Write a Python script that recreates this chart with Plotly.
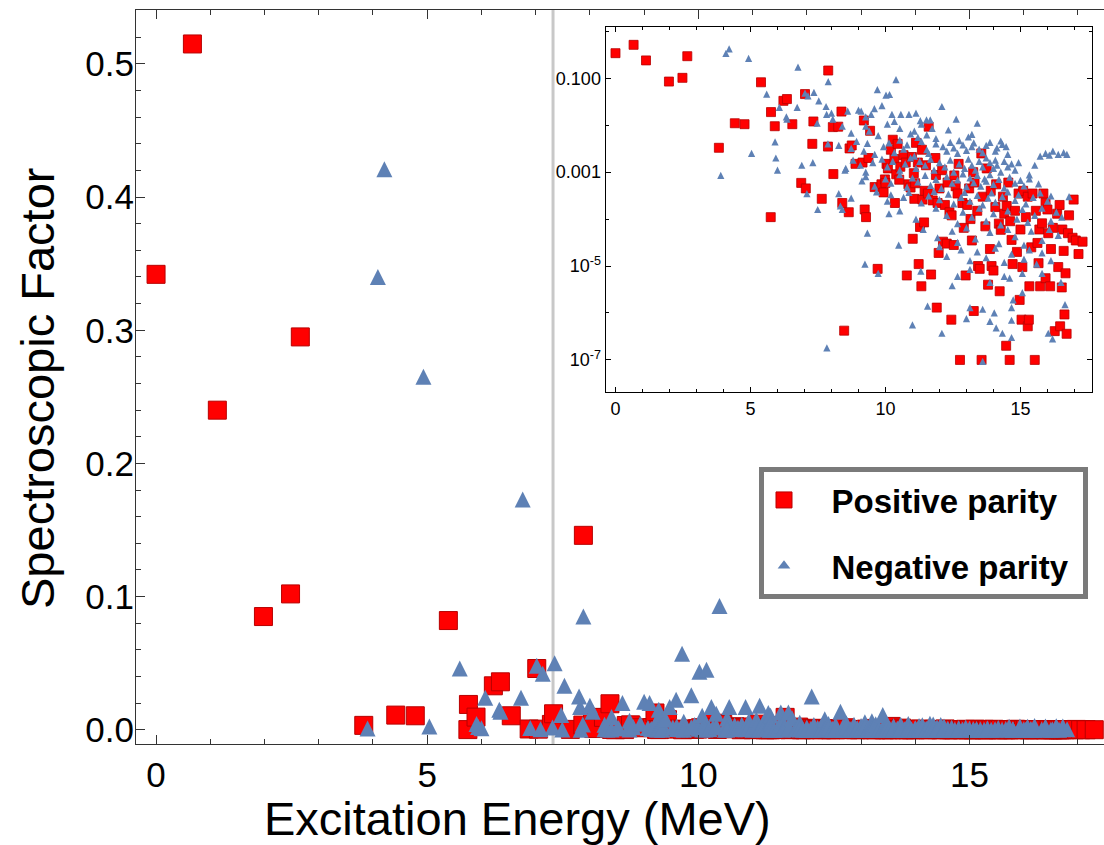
import plotly.graph_objects as go

# ---------------- data ----------------
# Positive parity: excitation energy (MeV) and spectroscopic factor
pos_energy = [
    0.00, 0.67, 1.13, 1.98, 2.48, 2.66, 3.83, 4.42, 4.78, 5.39, 5.75, 5.76, 5.90, 6.22, 6.35, 6.55,
    6.88, 7.02, 7.05, 7.29, 7.33, 7.64, 7.87, 7.88, 8.05, 8.07, 8.25, 8.37, 8.40, 8.47, 8.64, 8.67,
    8.75, 8.89, 9.15, 9.20, 9.23, 9.28, 9.37, 9.43, 9.60, 9.71, 9.85, 9.93, 9.98, 10.00, 10.04, 10.09,
    10.20, 10.27, 10.33, 10.35, 10.40, 10.45, 10.51, 10.55, 10.67, 10.75, 10.79, 10.85, 10.93, 10.98,
    11.01, 11.05, 11.07, 11.10, 11.13, 11.20, 11.23, 11.28, 11.33, 11.35, 11.37, 11.43, 11.45, 11.50,
    11.57, 11.60, 11.69, 11.75, 11.85, 11.87, 11.90, 11.93, 11.97, 12.00, 12.10, 12.13, 12.20, 12.27,
    12.30, 12.37, 12.44, 12.45, 12.53, 12.55, 12.60, 12.67, 12.71, 12.76, 12.85, 12.90, 12.97, 13.03,
    13.10, 13.15, 13.20, 13.25, 13.27, 13.30, 13.40, 13.43, 13.49, 13.55, 13.56, 13.60, 13.70, 13.75,
    13.80, 13.87, 13.90, 13.93, 14.00, 14.07, 14.10, 14.20, 14.23, 14.27, 14.35, 14.40, 14.47, 14.49,
    14.55, 14.60, 14.62, 14.67, 14.71, 14.80, 14.87, 14.93, 14.97, 15.00, 15.04, 15.07, 15.10, 15.20,
    15.27, 15.27, 15.31, 15.33, 15.40, 15.45, 15.53, 15.57, 15.63, 15.67, 15.70, 15.73, 15.80, 15.85,
    15.93, 15.93, 16.00, 16.03, 16.10, 16.13, 16.20, 16.27, 16.36, 16.40, 16.45, 16.47, 16.53, 16.55,
    16.60, 16.63, 16.67, 16.71, 16.76, 16.80, 16.93, 16.97, 17.05, 17.15, 17.30,
]
pos_factor = [
    0.342, 0.515, 0.240, 0.085, 0.102, 0.295, 0.0033, 0.011, 0.0105, 0.082, 1.1e-4, 0.019, 0.0095, 0.033, 0.036, 0.0105,
    5.9e-4, 0.046, 4.5e-4, 0.0040, 0.012, 2.7e-4, 0.0035, 0.146, 0.0091, 9.1e-4, 0.0093, 0.0195, 2.2e-4, 4.2e-7, 1.4e-4, 0.0032,
    0.0037, 0.0015, 0.0016, 0.0126, 1.6e-4, 1.1e-4, 0.0020, 0.0076, 4.8e-4, 8.7e-6, 5.5e-4, 3.7e-4, 7.0e-4, 5.9e-4, 0.0015, 0.0012,
    0.0030, 0.0049, 0.0019, 2.2e-4, 9.0e-4, 0.0040, 6.9e-4, 0.0013, 0.0023, 0.0016, 6.3e-6, 5.5e-4, 4.7e-4, 0.0021,
    3.8e-5, 9.5e-4, 2.7e-4, 5.8e-4, 0.0042, 0.0016, 1.1e-5, 6.8e-5, 3.7e-6, 0.0030, 2.6e-4, 8.5e-5, 4.0e-4, 0.0014,
    3.5e-4, 0.0093, 6.6e-6, 2.5e-4, 0.0020, 8.7e-4, 1.3e-6, 2.2e-4, 1.9e-5, 4.5e-4, 0.0011, 3.3e-5, 2.0e-4, 3.0e-5,
    6.0e-4, 1.4e-4, 7.2e-7, 1.2e-4, 2.8e-5, 8.5e-4, 5.0e-4, 3.5e-4, 0.0015, 1.0e-7, 2.2e-4, 6.5e-5, 6.3e-6, 2.0e-4,
    4.5e-4, 1.0e-4, 3.5e-5, 0.0010, 1.1e-6, 6.0e-4, 1.5e-4, 1.0e-5, 8.7e-6, 0.0025, 1.0e-7, 3.0e-4, 7.0e-5, 0.0012,
    4.0e-6, 2.3e-5, 4.0e-4, 1.0e-5, 8.0e-6, 1.8e-4, 5.5e-4, 8.0e-5, 2.9e-6, 5.9e-5, 3.0e-4, 1.3e-4, 2.0e-7, 1.9e-4,
    6.0e-4, 1.0e-7, 9.0e-5, 3.6e-5, 1.1e-5, 1.5e-4, 2.0e-5, 3.5e-4, 1.9e-6, 6.0e-5, 7.2e-7, 9.5e-6, 4.0e-4, 1.1e-4,
    3.0e-4, 5.2e-7, 7.2e-7, 3.7e-6, 2.5e-5, 3.5e-4, 1.0e-7, 1.5e-4, 3.1e-5, 1.15e-5, 6.0e-5, 3.7e-6, 8.1e-5, 3.5e-4,
    2.2e-4, 5.5e-6, 1.6e-4, 5.0e-5, 3.7e-6, 2.3e-5, 6.5e-5, 4.1e-7, 1.3e-4, 9.5e-6, 2.0e-4, 5.2e-7, 3.5e-6, 6.0e-5,
    2.1e-5, 9.3e-7, 7.0e-6, 3.6e-7, 5.0e-5, 1.2e-4, 4.0e-5, 2.6e-4, 3.5e-5, 1.8e-5, 3.3e-5,
]

# Negative parity: excitation energy (MeV) and spectroscopic factor
neg_energy = [
    3.90, 4.09, 4.21, 4.93, 5.04, 5.60, 5.91, 5.94, 6.00, 6.07, 6.33, 6.35, 6.73, 6.76, 6.90, 7.02,
    7.09, 7.13, 7.31, 7.35, 7.47, 7.49, 7.53, 7.80, 7.82, 7.83, 7.87, 7.88, 8.00, 8.05, 8.27, 8.27,
    8.33, 8.40, 8.40, 8.50, 8.53, 8.60, 8.73, 8.73, 8.73, 8.80, 8.93, 9.00, 9.07, 9.10, 9.13, 9.20,
    9.24, 9.27, 9.27, 9.27, 9.27, 9.33, 9.33, 9.40, 9.47, 9.53, 9.59, 9.60, 9.60, 9.67, 9.70, 9.73,
    9.73, 9.87, 9.87, 9.93, 10.00, 10.02, 10.07, 10.07, 10.07, 10.13, 10.13, 10.15, 10.20, 10.20, 10.24, 10.27,
    10.33, 10.33, 10.39, 10.49, 10.53, 10.53, 10.53, 10.53, 10.53, 10.57, 10.67, 10.67, 10.73, 10.80, 10.80, 10.87,
    10.87, 10.93, 10.93, 11.00, 11.00, 11.07, 11.07, 11.13, 11.13, 11.13, 11.20, 11.20, 11.27, 11.29, 11.31, 11.33,
    11.33, 11.33, 11.40, 11.47, 11.47, 11.52, 11.53, 11.53, 11.56, 11.60, 11.60, 11.66, 11.67, 11.67, 11.73, 11.80,
    11.80, 11.87, 11.87, 11.87, 11.87, 11.93, 12.00, 12.00, 12.00, 12.07, 12.09, 12.09, 12.13, 12.20, 12.27, 12.27,
    12.27, 12.27, 12.33, 12.33, 12.40, 12.40, 12.47, 12.47, 12.47, 12.53, 12.53, 12.53, 12.62, 12.67, 12.67, 12.67,
    12.67, 12.67, 12.73, 12.73, 12.80, 12.80, 12.87, 12.87, 12.87, 12.93, 12.93, 13.00, 13.00, 13.00, 13.00, 13.07,
    13.07, 13.13, 13.13, 13.13, 13.13, 13.13, 13.20, 13.20, 13.20, 13.20, 13.27, 13.27, 13.33, 13.33, 13.40, 13.40,
    13.40, 13.40, 13.47, 13.47, 13.47, 13.53, 13.60, 13.60, 13.60, 13.60, 13.60, 13.67, 13.73, 13.73, 13.73, 13.73,
    13.73, 13.80, 13.87, 13.87, 13.87, 13.87, 13.87, 13.87, 13.93, 14.00, 14.00, 14.00, 14.03, 14.07, 14.07, 14.07,
    14.07, 14.10, 14.13, 14.13, 14.20, 14.20, 14.27, 14.27, 14.27, 14.33, 14.33, 14.33, 14.40, 14.40, 14.40, 14.40,
    14.47, 14.53, 14.53, 14.53, 14.53, 14.53, 14.60, 14.60, 14.67, 14.67, 14.67, 14.67, 14.67, 14.73, 14.80, 14.80,
    14.80, 14.80, 14.87, 14.93, 14.93, 15.00, 15.07, 15.07, 15.07, 15.13, 15.13, 15.13, 15.20, 15.27, 15.33, 15.33,
    15.33, 15.40, 15.47, 15.53, 15.53, 15.60, 15.67, 15.73, 15.73, 15.80, 15.80, 15.80, 15.80, 15.93, 16.00, 16.03,
    16.07, 16.07, 16.13, 16.13, 16.13, 16.19, 16.20, 16.33, 16.40, 16.40, 16.50, 16.53, 16.60, 16.65, 16.72, 16.80,
]
neg_factor = [
    8.5e-4, 0.340, 0.421, 0.265, 0.0025, 0.046, 0.0044, 0.0020, 0.0011, 0.024, 0.015, 0.0135, 0.024, 0.173, 0.0014, 0.048,
    3.5e-4, 0.042, 0.0016, 0.050, 0.011, 1.6e-4, 0.033, 0.025, 0.017, 1.8e-7, 0.0040, 0.085, 0.018, 0.0135, 0.0037, 3.5e-4,
    1.9e-4, 0.0095, 1.6e-4, 0.0011, 0.0012, 0.020, 0.0068, 0.0032, 2.8e-4, 0.0018, 0.0045, 0.021, 0.0014, 0.020, 6.5e-4, 0.0028,
    1.1e-5, 0.015, 0.0095, 0.0010, 8.0e-4, 0.0041, 5.0e-5, 0.0075, 0.017, 0.0016, 0.0225, 0.0024, 5.0e-4, 3.8e-4, 0.057, 0.0060,
    7.0e-6, 0.026, 0.0019, 0.0035, 7.2e-4, 0.0435, 0.0105, 0.0013, 2.4e-4, 0.0042, 1.3e-4, 0.045, 5.8e-4, 3.3e-4, 0.017, 0.0017,
    0.012, 0.0026, 0.093, 2.8e-5, 0.0085, 0.0048, 0.0011, 8.8e-4, 1.5e-4, 0.017, 0.0031, 2.9e-4, 0.0015, 0.0038, 4.8e-4, 0.017,
    3.7e-4, 0.0065, 0.0020, 7.5e-4, 5.6e-7, 0.0075, 0.0022, 0.018, 0.0012, 1.0e-4, 0.0055, 6.2e-4, 0.0017, 0.0125, 7.8e-6, 0.0105,
    0.0045, 2.2e-4, 6.0e-5, 0.0014, 8.5e-4, 0.013, 0.0062, 0.0030, 1.4e-6, 0.0025, 3.1e-4, 0.013, 0.0019, 5.2e-4, 0.0085, 0.0011,
    3.9e-4, 0.0052, 0.0040, 7.0e-4, 1.7e-4, 4.0e-5, 0.0016, 2.6e-4, 2.6e-5, 4.5e-4, 0.025, 3.7e-7, 0.0035, 0.0013, 0.0028, 8.0e-4,
    1.2e-4, 1.6e-5, 0.0079, 3.4e-4, 0.0043, 0.0018, 5.8e-4, 5.5e-5, 3.8e-6, 0.0033, 0.0010, 2.1e-4, 0.0135, 0.0025, 6.8e-4, 8.0e-5,
    3.2e-5, 6.0e-6, 0.0047, 0.0015, 2.9e-4, 2.2e-5, 0.0038, 9.2e-4, 1.4e-4, 0.0012, 3.7e-4, 0.0029, 4.9e-4, 6.5e-5, 7.6e-7, 0.0056,
    0.0019, 7.5e-4, 2.4e-4, 1.3e-5, 8.5e-6, 1.3e-6, 0.0064, 0.0035, 0.0014, 1.1e-4, 0.0042, 6.0e-4, 0.0011, 3.8e-5, 0.011, 8.5e-4,
    3.2e-4, 2.0e-5, 0.0031, 0.0017, 1.7e-4, 5.0e-4, 0.0026, 0.0013, 2.0e-4, 1.2e-6, 9.3e-8, 7.2e-4, 0.0037, 0.0020, 6.4e-4, 9.0e-5,
    1.5e-5, 2.8e-4, 0.0043, 0.0016, 8.8e-4, 5.2e-5, 4.5e-6, 6.6e-7, 3.6e-4, 0.0012, 5.5e-4, 1.3e-4, 1.0e-6, 0.0028, 0.0018, 2.3e-4,
    2.4e-5, 4.8e-7, 0.0033, 0.0014, 7.0e-4, 3.0e-5, 0.0046, 0.0010, 7.5e-5, 0.0039, 3.0e-4, 3.7e-7, 0.0017, 4.6e-4, 1.2e-5, 6.0e-6,
    0.0035, 0.0024, 0.0013, 3.8e-4, 1.5e-4, 6.0e-5, 7.8e-4, 5.5e-6, 0.0015, 1.8e-5, 1.3e-6, 7.0e-7, 3.0e-7, 1.9e-6, 0.0011, 5.8e-4,
    2.5e-4, 4.2e-5, 1.0e-4, 0.0016, 3.3e-4, 6.7e-4, 1.6e-4, 7.0e-6, 2.7e-6, 5.1e-4, 2.8e-5, 1.4e-5, 2.1e-4, 8.5e-5, 8.7e-4, 7.2e-4,
    2.2e-5, 5.5e-5, 2.9e-4, 0.0014, 1.2e-4, 1.1e-5, 5.6e-4, 0.0022, 3.6e-4, 1.7e-4, 3.5e-5, 1.9e-5, 7.0e-6, 0.0025, 2.4e-4, 3.7e-7,
    0.0023, 6.0e-5, 3.1e-4, 9.0e-5, 1.3e-5, 2.8e-7, 0.0028, 1.4e-4, 0.0024, 4.5e-5, 4.5e-6, 1.1e-4, 0.0026, 1.5e-6, 0.0024, 3.0e-4,
]

series_names = ["Positive parity", "Negative parity"]
main_x_ticks = [0, 5, 10, 15]
main_y_ticks = [0.0, 0.1, 0.2, 0.3, 0.4, 0.5]
main_y_labels = ["0.0", "0.1", "0.2", "0.3", "0.4", "0.5"]
inset_x_ticks = [0, 5, 10, 15]
inset_y_ticks = [1e-7, 1e-5, 1e-3, 1e-1]
inset_y_labels = ["10<sup>-7</sup>", "10<sup>-5</sup>", "0.001", "0.100"]
inset_y_minor = [1e-6, 1e-4, 1e-2, 1.0]
separation_energy = 7.32   # position of the grey vertical reference line (MeV)

# ---------------- styling ----------------
RED = "#FF0000"
RED_EDGE = "#B80000"
BLUE = "#5E81B5"
FONT = "Liberation Sans, Arial, sans-serif"
AXC = "#333333"
NB = "\u00a0"

W, H = 1104, 845
ML, MR, MT, MB = 136, 0, 10, 101
PW, PH = W - ML - MR, H - MT - MB


def px_x(p):
    return (p - ML) / PW


def px_y(p):
    return (H - MB - p) / PH


fig = go.Figure()

# main panel
fig.add_trace(go.Scatter(
    x=pos_energy, y=pos_factor, mode="markers", showlegend=False, hoverinfo="skip",
    marker=dict(symbol="square", size=18, color=RED, line=dict(color=RED_EDGE, width=1)),
    xaxis="x", yaxis="y"))
fig.add_trace(go.Scatter(
    x=neg_energy, y=neg_factor, mode="markers", showlegend=False, hoverinfo="skip",
    marker=dict(symbol="arrow-down", angle=180, standoff=8, size=16, color=BLUE,
                line=dict(width=0)),
    xaxis="x", yaxis="y"))

# inset panel (log scale)
fig.add_trace(go.Scatter(
    x=pos_energy, y=pos_factor, mode="markers", showlegend=False, hoverinfo="skip",
    marker=dict(symbol="square", size=9, color=RED, line=dict(color=RED_EDGE, width=0.8)),
    xaxis="x2", yaxis="y2"))
fig.add_trace(go.Scatter(
    x=neg_energy, y=neg_factor, mode="markers", showlegend=False, hoverinfo="skip",
    marker=dict(symbol="arrow-down", angle=180, standoff=3.6, size=7.2, color=BLUE,
                line=dict(width=0)),
    xaxis="x2", yaxis="y2"))

# legend entries
fig.add_trace(go.Scatter(
    x=[None], y=[None], mode="markers", name="<b>" + NB * 3 + series_names[0] + NB + "</b>",
    legendgroup="a",
    marker=dict(symbol="square", size=18, color=RED, line=dict(color=RED_EDGE, width=1))))
fig.add_trace(go.Scatter(
    x=[None], y=[None], mode="markers", name="<b>" + NB * 3 + series_names[1] + NB + "</b>",
    legendgroup="b",
    marker=dict(symbol="triangle-up", size=11, color=BLUE, line=dict(width=0))))

fig.add_shape(type="line", xref="x", yref="paper", x0=separation_energy, x1=separation_energy,
              y0=0, y1=1, line=dict(color="#C8C8C8", width=3), layer="below")

fig.update_layout(
    width=W, height=H,
    margin=dict(l=ML, r=MR, t=MT, b=MB, pad=0),
    paper_bgcolor="white", plot_bgcolor="white",
    font=dict(family=FONT, color="black"),
    xaxis=dict(
        domain=[0, 1], range=[-0.37, 17.48], tickmode="array", tickvals=main_x_ticks,
        ticks="inside", ticklen=9, tickwidth=1, tickcolor=AXC,
        minor=dict(dtick=1, tick0=0, ticks="inside", ticklen=5, tickwidth=1, tickcolor=AXC),
        showline=True, linecolor=AXC, linewidth=1.3, mirror="ticks",
        showgrid=False, zeroline=False, tickfont=dict(size=35, family=FONT, color="black"),
    ),
    yaxis=dict(
        domain=[0, 1], range=[-0.0107, 0.5405], tickmode="array", tickvals=main_y_ticks,
        ticktext=main_y_labels, ticklabelstandoff=-6,
        ticks="inside", ticklen=9, tickwidth=1, tickcolor=AXC,
        minor=dict(dtick=0.02, tick0=0, ticks="inside", ticklen=5, tickwidth=1, tickcolor=AXC),
        showline=True, linecolor=AXC, linewidth=1.3,
        showgrid=False, zeroline=False, tickfont=dict(size=35, family=FONT, color="black"),
    ),
    xaxis2=dict(
        domain=[px_x(605.5), px_x(1092)], anchor="y2", range=[-0.37, 17.65],
        tickmode="array", tickvals=inset_x_ticks,
        ticks="inside", ticklen=5.5, tickwidth=1, tickcolor="black",
        minor=dict(dtick=1, tick0=0, ticks="inside", ticklen=3, tickwidth=1, tickcolor="black"),
        showline=True, linecolor="black", linewidth=1, mirror="ticks",
        showgrid=False, zeroline=False, tickfont=dict(size=18, family=FONT, color="black"),
    ),
    yaxis2=dict(
        domain=[px_y(392.3), px_y(26.7)], anchor="x2", type="log", range=[-7.69, 0.098],
        tickmode="array", tickvals=inset_y_ticks, ticktext=inset_y_labels,
        ticks="inside", ticklen=5.5, tickwidth=1, tickcolor="black",
        minor=dict(tickmode="array", tickvals=inset_y_minor, ticks="inside", ticklen=3,
                   tickwidth=1, tickcolor="black"),
        showline=True, linecolor="black", linewidth=1, mirror="ticks",
        showgrid=False, zeroline=False, tickfont=dict(size=18, family=FONT, color="black"),
    ),
    legend=dict(
        x=px_x(759), y=px_y(467), xanchor="left", yanchor="top",
        bgcolor="white", bordercolor="#7A7A7A", borderwidth=5,
        font=dict(size=33, family=FONT, color="black"),
        traceorder="grouped", tracegroupgap=20, itemwidth=30,
    ),
    showlegend=True,
    annotations=[
        dict(text="Excitation Energy (MeV)", xref="paper", yref="paper",
             x=px_x(517.6), y=px_y(818), xanchor="center", yanchor="middle", showarrow=False,
             font=dict(size=47, family=FONT, color="black")),
        dict(text="Spectroscopic Factor", xref="paper", yref="paper", textangle=-90,
             x=px_x(37), y=px_y(389), xanchor="center", yanchor="middle", showarrow=False,
             font=dict(size=47, family=FONT, color="black")),
    ],
)

fig.write_html("out.html", config={"displayModeBar": False},
               post_script="document.body.style.margin='0px';")
